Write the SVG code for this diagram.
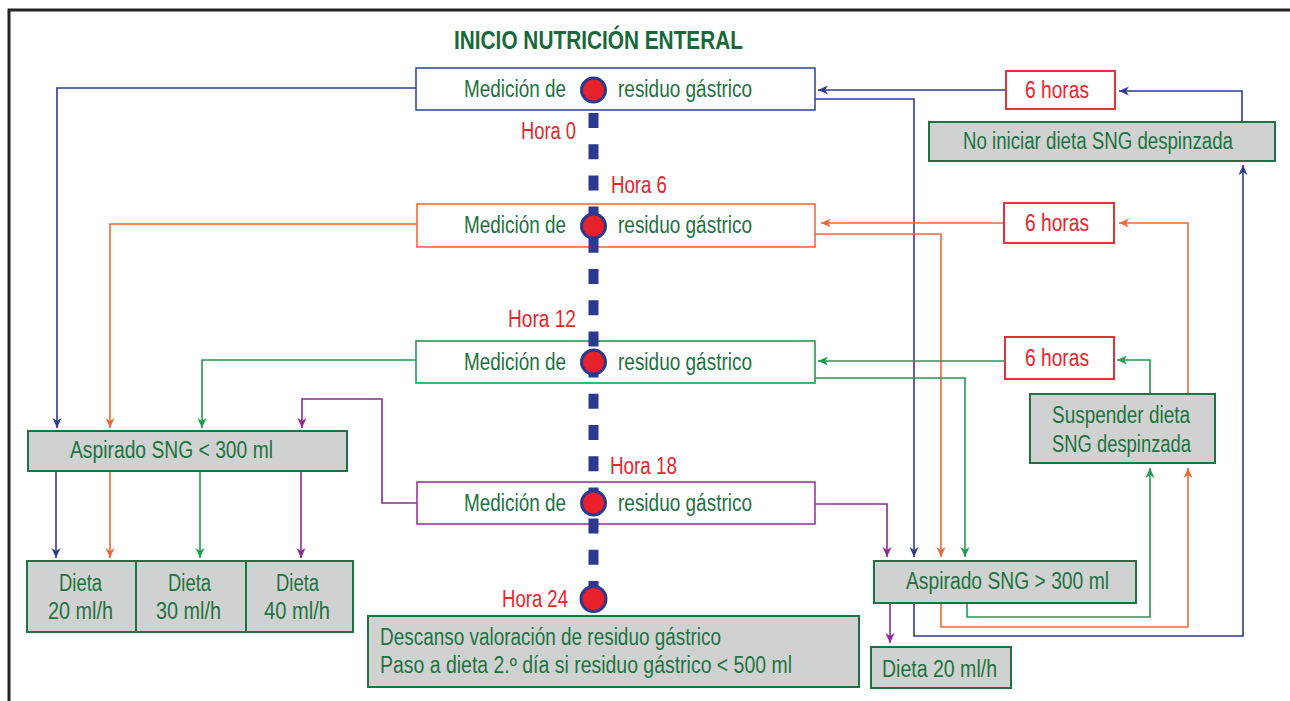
<svg xmlns="http://www.w3.org/2000/svg" width="1290" height="701" viewBox="0 0 1290 701">
<style>
.t{font-family:"Liberation Sans",Arial,sans-serif;font-size:23px;fill:#1e7242}
.h{font-family:"Liberation Sans",Arial,sans-serif;font-size:23px;fill:#e8242d}
.title{font-family:"Liberation Sans",Arial,sans-serif;font-size:25px;font-weight:bold;fill:#17693a}
.wb{fill:#fff;stroke-width:1.6}
.gb{fill:#d0d2d1;stroke:#1c7343;stroke-width:2}
.rb{fill:#fff;stroke:#e8323a;stroke-width:2}
.c{fill:none;stroke-width:1.6}
.cb{stroke:#2e3b8e}.co{stroke:#ef6936}.cg{stroke:#1f9a50}.cp{stroke:#8c2a94}
.dot{fill:#e8202a;stroke:#2b3990;stroke-width:3}
</style>
<defs>
<marker id="ab" viewBox="0 0 10 10" refX="10" refY="5" markerWidth="10" markerHeight="10" markerUnits="userSpaceOnUse" orient="auto"><path d="M0,0.5 L10,5 L0,9.5 L3,5 z" fill="#2e3b8e"/></marker>
<marker id="ao" viewBox="0 0 10 10" refX="10" refY="5" markerWidth="10" markerHeight="10" markerUnits="userSpaceOnUse" orient="auto"><path d="M0,0.5 L10,5 L0,9.5 L3,5 z" fill="#ef6936"/></marker>
<marker id="ag" viewBox="0 0 10 10" refX="10" refY="5" markerWidth="10" markerHeight="10" markerUnits="userSpaceOnUse" orient="auto"><path d="M0,0.5 L10,5 L0,9.5 L3,5 z" fill="#1f9a50"/></marker>
<marker id="ap" viewBox="0 0 10 10" refX="10" refY="5" markerWidth="10" markerHeight="10" markerUnits="userSpaceOnUse" orient="auto"><path d="M0,0.5 L10,5 L0,9.5 L3,5 z" fill="#8c2a94"/></marker>
</defs>
<rect width="1290" height="701" fill="#fff"/>
<path d="M9,701 V10 H1290" fill="none" stroke="#222" stroke-width="3"/>
<text class="title" x="454" y="49" textLength="289" lengthAdjust="spacingAndGlyphs">INICIO NUTRICIÓN ENTERAL</text>

<g id="connectors">
<path class="c cb" d="M416,88 H57 V428" marker-end="url(#ab)"/>
<path class="c cb" d="M56,471 V558" marker-end="url(#ab)"/>
<path class="c cb" d="M815,99 H914 V557" marker-end="url(#ab)"/>
<path class="c cb" d="M1006,90 H818" marker-end="url(#ab)"/>
<path class="c cb" d="M1242,122 V91 H1119" marker-end="url(#ab)"/>
<path class="c cb" d="M914,603 V636 H1243 V165" marker-end="url(#ab)"/>

<path class="c co" d="M417,224 H110 V428" marker-end="url(#ao)"/>
<path class="c co" d="M110,471 V558" marker-end="url(#ao)"/>
<path class="c co" d="M815,234 H941 V557" marker-end="url(#ao)"/>
<path class="c co" d="M1004,223 H821" marker-end="url(#ao)"/>
<path class="c co" d="M1188,394 V223 H1119" marker-end="url(#ao)"/>
<path class="c co" d="M941,603 V627 H1188 V468" marker-end="url(#ao)"/>

<path class="c cg" d="M416,360 H202 V428" marker-end="url(#ag)"/>
<path class="c cg" d="M200,471 V558" marker-end="url(#ag)"/>
<path class="c cg" d="M815,378 H965 V557" marker-end="url(#ag)"/>
<path class="c cg" d="M1005,361 H818" marker-end="url(#ag)"/>
<path class="c cg" d="M1150,394 V360 H1117" marker-end="url(#ag)"/>
<path class="c cg" d="M967,603 V617 H1150 V468" marker-end="url(#ag)"/>

<path class="c cp" d="M417,503 H382 V399 H302 V428" marker-end="url(#ap)"/>
<path class="c cp" d="M301,471 V558" marker-end="url(#ap)"/>
<path class="c cp" d="M815,504 H887 V557" marker-end="url(#ap)"/>
<path class="c cp" d="M890,603 V643" marker-end="url(#ap)"/>
</g>

<g id="med0">
<rect class="wb" x="416" y="68" width="399" height="42" stroke="#3a4a9c"/>
<text class="t" x="464" y="97" textLength="102" lengthAdjust="spacingAndGlyphs">Medición de</text>
<text class="t" x="618" y="97" textLength="134" lengthAdjust="spacingAndGlyphs">residuo gástrico</text>
</g>
<g id="med6">
<rect class="wb" x="417" y="204" width="398" height="43" stroke="#f06a3a"/>
<text class="t" x="464" y="233" textLength="102" lengthAdjust="spacingAndGlyphs">Medición de</text>
<text class="t" x="618" y="233" textLength="134" lengthAdjust="spacingAndGlyphs">residuo gástrico</text>
</g>
<g id="med12">
<rect class="wb" x="416" y="341" width="399" height="42" stroke="#21994f"/>
<text class="t" x="464" y="370" textLength="102" lengthAdjust="spacingAndGlyphs">Medición de</text>
<text class="t" x="618" y="370" textLength="134" lengthAdjust="spacingAndGlyphs">residuo gástrico</text>
</g>
<g id="med18">
<rect class="wb" x="417" y="482" width="398" height="42" stroke="#9a3aa0"/>
<text class="t" x="464" y="511" textLength="102" lengthAdjust="spacingAndGlyphs">Medición de</text>
<text class="t" x="618" y="511" textLength="134" lengthAdjust="spacingAndGlyphs">residuo gástrico</text>
</g>

<g id="timeline">
<line x1="593.5" y1="113" x2="593.5" y2="596" stroke="#2b3990" stroke-width="10" stroke-dasharray="15 16.2"/>
<circle class="dot" cx="593.5" cy="90" r="12"/>
<circle class="dot" cx="593.5" cy="226" r="12"/>
<circle class="dot" cx="593.5" cy="362" r="12"/>
<circle class="dot" cx="593.5" cy="503" r="12"/>
<circle class="dot" cx="593.5" cy="599" r="12.5"/>
<text class="h" x="521" y="139" textLength="55" lengthAdjust="spacingAndGlyphs">Hora 0</text>
<text class="h" x="611" y="193" textLength="56" lengthAdjust="spacingAndGlyphs">Hora 6</text>
<text class="h" x="508" y="327" textLength="68" lengthAdjust="spacingAndGlyphs">Hora 12</text>
<text class="h" x="610" y="474" textLength="67" lengthAdjust="spacingAndGlyphs">Hora 18</text>
<text class="h" x="502" y="607" textLength="66" lengthAdjust="spacingAndGlyphs">Hora 24</text>
</g>

<g id="seis-a">
<rect class="rb" x="1006" y="71" width="109" height="38"/>
<text class="h" x="1025" y="98" textLength="64" lengthAdjust="spacingAndGlyphs">6 horas</text>
</g>
<g id="seis-b">
<rect class="rb" x="1004" y="203" width="110" height="40"/>
<text class="h" x="1025" y="231" textLength="64" lengthAdjust="spacingAndGlyphs">6 horas</text>
</g>
<g id="seis-c">
<rect class="rb" x="1005" y="337" width="109" height="42"/>
<text class="h" x="1025" y="366" textLength="64" lengthAdjust="spacingAndGlyphs">6 horas</text>
</g>

<g id="no-iniciar">
<rect class="gb" x="929" y="122" width="346" height="39"/>
<text class="t" transform="translate(963,149) scale(0.813,1)" x="0" y="0" textLength="332" lengthAdjust="spacingAndGlyphs">No iniciar dieta SNG despinzada</text>
</g>
<g id="suspender">
<rect class="gb" x="1030" y="394" width="185" height="69"/>
<text class="t" x="1052" y="423" textLength="138" lengthAdjust="spacingAndGlyphs">Suspender dieta</text>
<text class="t" x="1052" y="452" textLength="139" lengthAdjust="spacingAndGlyphs">SNG despinzada</text>
</g>
<g id="asp-mayor">
<rect class="gb" x="874" y="561" width="262" height="42"/>
<text class="t" x="906" y="589" textLength="203" lengthAdjust="spacingAndGlyphs">Aspirado SNG &gt; 300 ml</text>
</g>
<g id="dieta-20-der">
<rect class="gb" x="871" y="647" width="140" height="41"/>
<text class="t" x="882" y="677" textLength="115" lengthAdjust="spacingAndGlyphs">Dieta 20 ml/h</text>
</g>
<g id="asp-menor">
<rect class="gb" x="28" y="431" width="319" height="40"/>
<text class="t" x="70" y="458" textLength="203" lengthAdjust="spacingAndGlyphs">Aspirado SNG &lt; 300 ml</text>
</g>
<g id="dieta-20">
<rect class="gb" x="27" y="561" width="109" height="71"/>
<text class="t" x="59" y="591" textLength="43" lengthAdjust="spacingAndGlyphs">Dieta</text>
<text class="t" x="48" y="619" textLength="65" lengthAdjust="spacingAndGlyphs">20 ml/h</text>
</g>
<g id="dieta-30">
<rect class="gb" x="136" y="561" width="110" height="71"/>
<text class="t" x="168" y="591" textLength="43" lengthAdjust="spacingAndGlyphs">Dieta</text>
<text class="t" x="156" y="619" textLength="65" lengthAdjust="spacingAndGlyphs">30 ml/h</text>
</g>
<g id="dieta-40">
<rect class="gb" x="246" y="561" width="107" height="71"/>
<text class="t" x="276" y="591" textLength="43" lengthAdjust="spacingAndGlyphs">Dieta</text>
<text class="t" x="264" y="619" textLength="66" lengthAdjust="spacingAndGlyphs">40 ml/h</text>
</g>
<g id="descanso">
<rect class="gb" x="368" y="616" width="491" height="71"/>
<text class="t" x="380" y="645" textLength="341" lengthAdjust="spacingAndGlyphs">Descanso valoración de residuo gástrico</text>
<text class="t" x="380" y="673" textLength="412" lengthAdjust="spacingAndGlyphs">Paso a dieta 2.º día si residuo gástrico &lt; 500 ml</text>
</g>
</svg>
